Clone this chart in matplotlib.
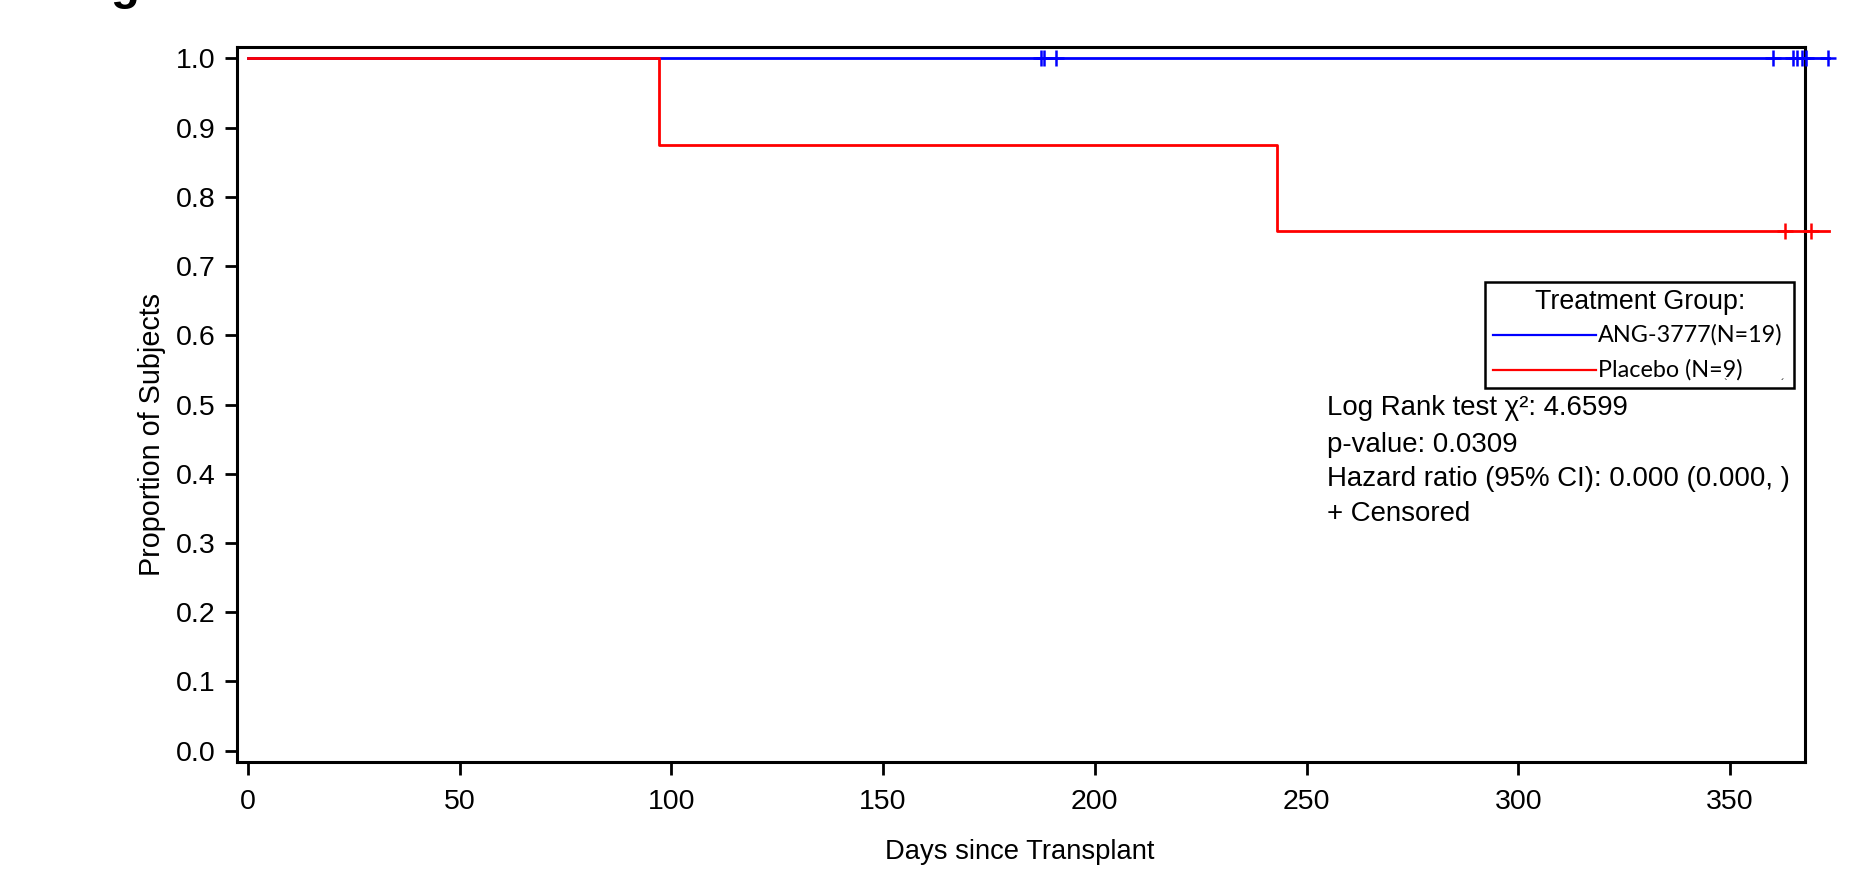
import numpy as np
import matplotlib
matplotlib.use("Agg")
import matplotlib.pyplot as plt
from matplotlib.patches import Rectangle
from matplotlib.lines import Line2D

# step curves (days, survival proportion)
ang_times = [0, 373.4]
ang_surv = [1.0, 1.0]
ang_censor = [187.3, 187.9, 190.8, 360.1, 364.9, 365.8, 366.9, 367.8, 373.0]

pbo_times = [0, 97, 243, 373.4]
pbo_surv = [1.0, 0.875, 0.75, 0.75]
pbo_censor = [363.0, 369.0]

xticks = [0, 50, 100, 150, 200, 250, 300, 350]
yticks = [0.0, 0.1, 0.2, 0.3, 0.4, 0.5, 0.6, 0.7, 0.8, 0.9, 1.0]

legend_labels = ["ANG-3777(N=19)", "Placebo (N=9)"]
stats_lines = ["Log Rank test \u03c7\u00b2: 4.6599",
               "p-value: 0.0309",
               "Hazard ratio (95% CI): 0.000 (0.000, )",
               "+ Censored"]

plt.rcParams['font.family'] = ['Liberation Sans', 'DejaVu Sans']

fig = plt.figure(figsize=(18.64, 8.71), dpi=100)
ax = fig.add_axes([0.127, 0.1248, 0.9682 - 0.127, 0.9457 - 0.1248])


def step_with_censor(times, surv, censor, color):
    ax.step(times, surv, where='post', color=color, lw=2.0, clip_on=False, zorder=3)
    # censored value = survival at that time
    cy = [surv[np.searchsorted(times, c, side='right') - 1] for c in censor]
    ax.plot(censor, cy, ls='none', marker='+', ms=11, mew=1.8, color=color,
            clip_on=False, zorder=4)


step_with_censor(ang_times, ang_surv, ang_censor, 'blue')
step_with_censor(pbo_times, pbo_surv, pbo_censor, 'red')

ax.set_xlim(-2.6, 367.6)
ax.set_ylim(-0.0168, 1.016)
ax.set_xticks(xticks)
ax.set_xticklabels([str(t) for t in xticks])
ax.set_yticks(yticks)
ax.set_yticklabels(["%.1f" % t for t in yticks])
ax.tick_params(axis='both', direction='out', length=9, width=2.0, labelsize=20.5)
ax.tick_params(axis='x', pad=10)
ax.tick_params(axis='y', pad=6)
for s in ax.spines.values():
    s.set_linewidth(2.2)

fig.text(1020 / 1864, 1 - 852 / 871, "Days since Transplant", fontsize=19.7,
         ha='center', va='center')
fig.text(152 / 1864, 1 - 435 / 871, "Proportion of Subjects", fontsize=20.7,
         ha='center', va='center', rotation=90)

# cut-off panel letter at top left
fig.text(110 / 1864, 1 + 1.5 / 871, "g", fontsize=34, fontweight='bold',
         ha='left', va='baseline')

# legend box
fig.patches.append(Rectangle((0.7967, 0.5549), 0.9626 - 0.7967, 0.6759 - 0.5549,
                             transform=fig.transFigure, fill=False, ec='black',
                             lw=1.8, zorder=5))
fig.text(0.8798, 0.6536, "Treatment Group:", fontsize=19.3, ha='center', va='center')
for lab, col, yy in zip(legend_labels, ['blue', 'red'], [0.6154, 0.5752]):
    fig.lines.append(Line2D([0.8011, 0.8561], [yy, yy], transform=fig.transFigure,
                            color=col, lw=1.6))
    fig.text(0.8575, yy, lab, fontsize=16.8, family=['Lato', 'DejaVu Sans'],
             ha='left', va='center')
# stray marks at the bottom of the legend box
fig.text(1725 / 1864, 1 - 384 / 871, "`", fontsize=8, ha='center', va='center')
fig.text(1782 / 1864, 1 - 384 / 871, "\u00b4", fontsize=8, ha='center', va='center')

for txt, yy in zip(stats_lines, [0.5318, 0.4896, 0.4500, 0.4103]):
    fig.text(0.7117, yy, txt, fontsize=19.9, ha='left', va='center')

fig.savefig("out.png", dpi=100)
